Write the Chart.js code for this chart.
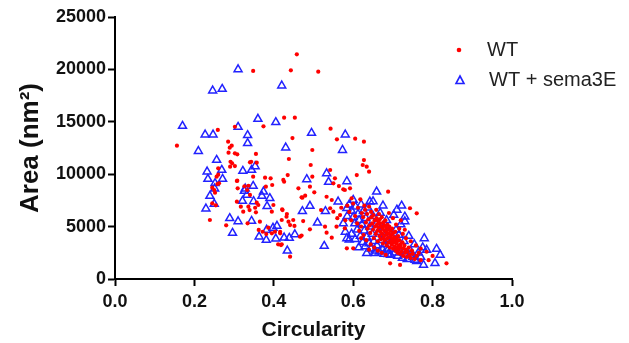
<!DOCTYPE html>
<html>
<head>
<meta charset="utf-8">
<script src="https://cdn.jsdelivr.net/npm/chart.js@4/dist/chart.umd.min.js"></script>
<style>
  html, body { margin: 0; padding: 0; background: #fff; }
  #wrap { width: 629px; height: 343px; position: relative; }
</style>
</head>
<body>
<div id="wrap"><canvas id="scatter"></canvas></div>
<script>
// Data: [circularity, area nm^2]
const xTicks = [0.0, 0.2, 0.4, 0.6, 0.8, 1.0];
const yTicks = [0, 5000, 10000, 15000, 20000, 25000];

const wtPoints = [
  [0.458,21440],[0.348,19850],[0.443,19910],[0.512,19780],[0.426,15390],[0.453,15390],
  [0.259,14220],[0.302,14530],[0.374,14570],[0.447,13450],[0.156,12720],[0.285,13100],
  [0.294,12720],[0.289,12530],[0.497,12310],[0.543,14340],[0.559,13330],[0.605,13390],
  [0.627,13100],[0.286,12050],[0.302,11990],[0.308,11900],[0.291,11190],[0.295,11040],
  [0.290,10720],[0.308,9380],[0.340,11130],[0.256,9760],[0.245,8710],[0.258,9060],
  [0.252,8230],[0.309,8650],[0.333,8490],[0.340,8020],[0.336,8900],[0.302,10780],
  [0.307,9350],[0.326,8850],[0.260,10560],[0.260,9950],[0.262,9130],[0.250,8490],
  [0.245,7220],[0.254,7030],[0.239,5630],[0.280,5120],[0.307,7380],[0.317,6900],
  [0.323,6420],[0.334,5310],[0.336,6900],[0.339,6580],[0.353,6800],[0.357,7280],
  [0.361,7060],[0.355,6360],[0.343,11190],[0.355,11930],[0.357,11100],[0.348,9760],
  [0.380,8810],[0.378,9670],[0.392,9610],[0.396,8970],[0.399,7060],[0.395,6420],
  [0.365,5470],[0.362,4680],[0.372,4510],[0.381,4290],[0.386,4900],[0.403,4510],
  [0.416,4510],[0.411,3310],[0.418,3240],[0.422,6580],[0.420,5630],[0.432,5940],
  [0.437,5470],[0.441,5150],[0.449,5630],[0.452,5060],[0.466,4040],[0.470,4140],
  [0.441,2130],[0.426,9280],[0.435,9920],[0.438,11450],[0.462,8650],[0.470,7790],
  [0.493,10880],[0.497,9760],[0.491,8810],[0.491,4740],[0.542,10400],[0.550,9130],
  [0.564,8870],[0.575,8560],[0.424,9450],[0.479,7950],[0.502,8270],[0.472,7760],
  [0.421,6650],[0.433,6200],[0.474,5530],[0.519,6580],[0.533,7850],[0.542,6750],
  [0.529,4990],[0.558,4990],[0.533,4420],[0.546,3940],[0.567,6100],[0.579,4840],
  [0.416,4360],[0.420,3310],[0.395,4360],[0.627,11350],[0.624,10880],[0.634,10720],
  [0.640,10240],[0.609,9920],[0.554,9610],[0.579,8490],[0.592,8650],[0.688,8330],
  [0.760,6270],[0.743,6750],[0.835,1500],[0.693,1500],[0.718,1340],[0.600,2930],
  [0.584,2930],[0.546,7540],[0.550,6420],
  // dense cluster
  [0.600,7200],[0.612,6800],[0.618,7600],[0.622,6300],[0.625,5900],[0.628,7000],
  [0.630,6600],[0.632,5400],[0.635,6200],[0.636,4800],[0.638,5700],[0.640,6900],
  [0.641,5100],[0.643,4400],[0.645,6400],[0.646,5900],[0.648,5300],[0.650,4700],
  [0.651,6100],[0.652,3900],[0.654,5600],[0.655,5000],[0.657,4300],[0.658,6600],
  [0.659,5800],[0.660,5200],[0.661,4600],[0.662,3600],[0.663,5500],[0.664,4900],
  [0.665,6200],[0.666,4100],[0.667,5700],[0.668,5300],[0.669,4500],[0.670,3800],
  [0.671,5000],[0.672,5900],[0.673,4300],[0.674,4800],[0.675,3400],[0.676,5400],
  [0.677,4000],[0.678,5100],[0.679,4600],[0.680,3700],[0.681,5600],[0.682,4200],
  [0.683,4900],[0.684,3200],[0.685,4400],[0.686,5200],[0.687,3900],[0.688,4700],
  [0.689,3500],[0.690,4300],[0.691,5000],[0.692,3000],[0.693,4000],[0.694,4600],
  [0.695,3600],[0.696,4200],[0.697,3300],[0.698,4800],[0.699,3800],[0.700,2900],
  [0.701,4400],[0.702,3500],[0.703,4000],[0.704,3100],[0.705,3700],[0.706,4500],
  [0.707,2700],[0.708,3400],[0.709,3900],[0.710,3000],[0.711,3600],[0.712,2500],
  [0.713,4100],[0.714,3200],[0.715,2800],[0.716,3700],[0.718,2400],[0.719,3300],
  [0.720,3000],[0.722,2600],[0.724,3500],[0.726,2200],[0.727,2900],[0.729,3200],
  [0.731,2500],[0.733,2800],[0.735,2100],[0.737,2600],[0.740,3000],[0.742,2300],
  [0.745,2000],[0.748,2700],[0.750,2400],[0.755,1900],[0.760,2200],[0.765,2500],
  [0.770,1800],[0.590,6400],[0.595,5600],[0.605,6000],[0.610,5300],[0.615,4600],
  [0.620,5000],[0.626,4200],[0.633,3700],[0.644,3300],[0.653,3000],[0.662,2700],
  [0.672,2500],[0.682,2300],[0.708,5200],[0.716,4800],[0.725,4300],[0.733,3900],
  [0.745,3600],[0.758,3200],[0.770,2900],[0.785,2600],[0.800,2200],[0.790,1800],
  [0.720,5600],[0.700,5800],[0.690,6300],[0.730,4700],[0.580,5600],[0.585,7000],
  [0.596,7700],[0.560,5800],[0.570,6800],[0.620,3900],[0.640,2800]
];

const semaPoints = [
  [0.170,14600],[0.310,20000],[0.246,17970],[0.270,18130],[0.420,18450],[0.227,13770],
  [0.247,13770],[0.310,14500],[0.360,15270],[0.405,14950],[0.334,13710],[0.334,12950],
  [0.430,12530],[0.495,13930],[0.210,12200],[0.580,13770],[0.573,12300],[0.256,11350],
  [0.269,10400],[0.232,10240],[0.271,9540],[0.234,9540],[0.322,10300],[0.344,10400],
  [0.252,9130],[0.251,8620],[0.328,8620],[0.239,7920],[0.332,8020],[0.250,7160],
  [0.229,6710],[0.289,5790],[0.310,5500],[0.296,4390],[0.344,5530],[0.353,10750],
  [0.326,8400],[0.348,8870],[0.374,8330],[0.370,7920],[0.390,7700],[0.383,6940],
  [0.349,7410],[0.321,7440],[0.483,9510],[0.472,6460],[0.491,6970],[0.510,5370],
  [0.363,4040],[0.381,3720],[0.382,4680],[0.398,4870],[0.408,5060],[0.405,3850],
  [0.426,3940],[0.439,3910],[0.453,4260],[0.434,2700],[0.533,10080],[0.538,9260],
  [0.584,9320],
  // cluster
  [0.600,7540],[0.642,7380],[0.659,8330],[0.722,6990],[0.730,5940],[0.590,3750],
  [0.634,2450],[0.655,2450],[0.688,2360],[0.779,3880],[0.785,2770],[0.810,2860],
  [0.819,2290],[0.806,1500],[0.777,1340],[0.743,2290],[0.756,1810],[0.562,7380],
  [0.584,6750],[0.584,3880],[0.527,3150],[0.530,6460],
  [0.590,7100],[0.596,6500],[0.600,5900],[0.604,5300],[0.606,6900],[0.610,4700],
  [0.612,6200],[0.615,5600],[0.618,4100],[0.620,7100],[0.622,5200],[0.624,3500],
  [0.626,6500],[0.628,4600],[0.630,3100],[0.632,5800],[0.634,4000],[0.637,6800],
  [0.640,3400],[0.642,5000],[0.645,2900],[0.648,4300],[0.650,6000],[0.652,3600],
  [0.655,2700],[0.658,5200],[0.660,3200],[0.663,4500],[0.666,2600],[0.668,6300],
  [0.670,3700],[0.673,2900],[0.676,4900],[0.678,2400],[0.680,3300],[0.684,5600],
  [0.686,2700],[0.690,3600],[0.694,2300],[0.698,2900],[0.702,6100],[0.705,2500],
  [0.708,4700],[0.712,2200],[0.716,2800],[0.720,5200],[0.724,2000],[0.728,3600],
  [0.732,2400],[0.736,1900],[0.740,4100],[0.744,2700],[0.750,2100],[0.754,3300],
  [0.760,1700],[0.764,2500],[0.770,2100],[0.775,3000],[0.580,4500],[0.575,5300],
  [0.585,6000],[0.596,4300],[0.605,3800],[0.614,3000],[0.700,3900],[0.690,4500],
  [0.680,4100],[0.715,4200],[0.730,5500],[0.710,6600],[0.675,7000],[0.650,7400]
];

const seriesLabels = ['WT', 'WT + sema3E'];
const seriesColors = ['#ff0000', '#2222ff'];

const toXY = pts => pts.map(p => ({ x: p[0], y: p[1] }));

// legend drawn by hand so it can sit partly over the plot, like the original
const sideLegend = {
  id: 'sideLegend',
  afterDraw(chart) {
    const ctx = chart.ctx;
    ctx.save();
    // WT: small red dot
    ctx.fillStyle = seriesColors[0];
    ctx.beginPath();
    ctx.arc(459, 50, 2.3, 0, Math.PI * 2);
    ctx.fill();
    // WT + sema3E: open triangle
    ctx.strokeStyle = seriesColors[1];
    ctx.lineWidth = 1.6;
    ctx.beginPath();
    ctx.moveTo(460, 76);
    ctx.lineTo(464, 83.5);
    ctx.lineTo(456, 83.5);
    ctx.closePath();
    ctx.stroke();

    ctx.fillStyle = '#222';
    ctx.font = '20px "Liberation Sans", Arial, sans-serif';
    ctx.textBaseline = 'middle';
    ctx.fillText(seriesLabels[0], 487, 50);
    ctx.fillText(seriesLabels[1], 489, 80);
    ctx.restore();
  }
};

const axisLine = { color: '#000', width: 2 };
const tickGrid = {
  display: true,
  drawOnChartArea: false,
  drawTicks: true,
  tickLength: 7,
  tickColor: '#000',
  tickWidth: 2,
  color: '#000'
};

new Chart(document.getElementById('scatter'), {
  type: 'scatter',
  data: {
    datasets: [
      {
        label: seriesLabels[0],
        data: toXY(wtPoints),
        pointStyle: 'circle',
        pointRadius: 2.1,
        backgroundColor: seriesColors[0],
        borderWidth: 0,
      },
      {
        label: seriesLabels[1],
        data: toXY(semaPoints),
        pointStyle: 'triangle',
        pointRadius: 4.6,
        backgroundColor: 'rgba(0,0,0,0)',
        borderColor: seriesColors[1],
        borderWidth: 1.5,
      },
    ],
  },
  options: {
    responsive: true,
    maintainAspectRatio: false,
    animation: false,
    layout: { padding: { left: 0, top: 17, right: 117, bottom: 0 } },
    plugins: {
      legend: { display: false },
      tooltip: { enabled: false },
    },
    scales: {
      x: {
        type: 'linear',
        min: 0,
        max: 1,
        afterBuildTicks: scale => { scale.ticks = xTicks.map(v => ({ value: v })); },
        afterFit: scale => { scale.height = 64; },
        border: axisLine,
        grid: tickGrid,
        ticks: {
          color: '#111',
          padding: 5,
          font: { family: '"Liberation Sans", Arial, sans-serif', size: 18, weight: 'bold' },
          callback: v => Number(v).toFixed(1),
        },
        title: {
          display: true,
          text: 'Circularity',
          color: '#111',
          padding: { top: 0, bottom: 0 },
          font: { family: '"Liberation Sans", Arial, sans-serif', size: 21, weight: 'bold' },
        },
      },
      y: {
        type: 'linear',
        min: 0,
        max: 25000,
        afterBuildTicks: scale => { scale.ticks = yTicks.map(v => ({ value: v })); },
        afterFit: scale => { scale.width = 115; },
        border: axisLine,
        grid: tickGrid,
        ticks: {
          color: '#111',
          padding: 2,
          font: { family: '"Liberation Sans", Arial, sans-serif', size: 18, weight: 'bold' },
          callback: v => String(v),
        },
        title: {
          display: true,
          text: 'Area (nm²)',
          color: '#111',
          padding: { top: 15, bottom: 0 },
          font: { family: '"Liberation Sans", Arial, sans-serif', size: 26, weight: 'bold' },
        },
      },
    },
  },
  plugins: [sideLegend],
});
</script>
</body>
</html>
